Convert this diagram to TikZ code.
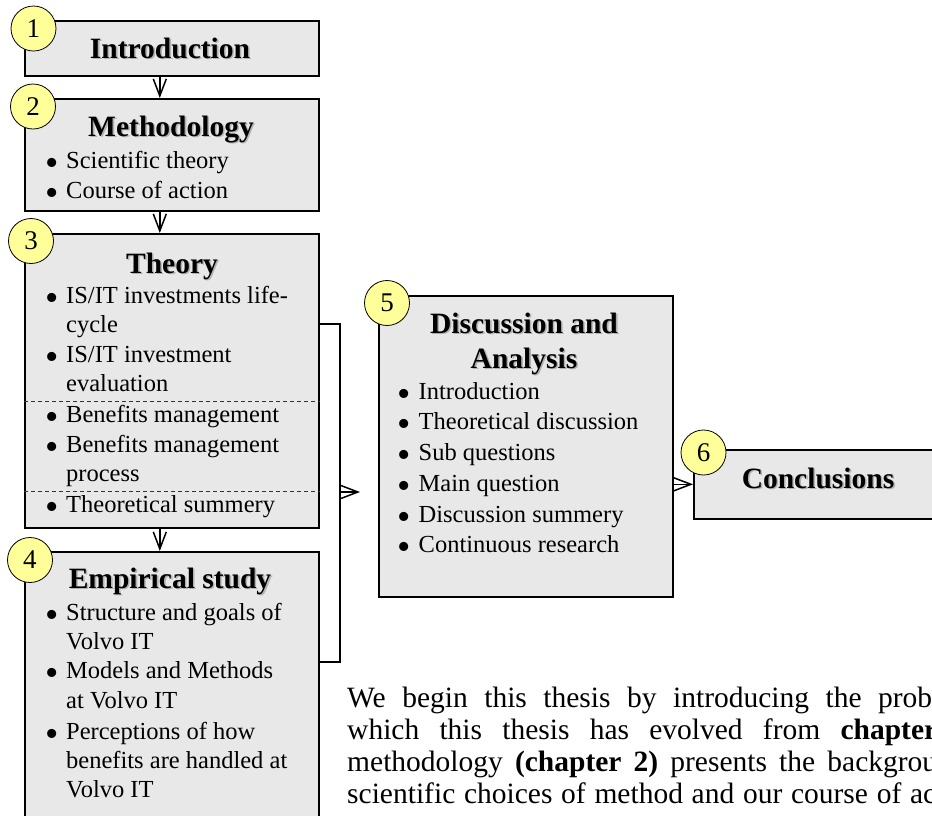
\documentclass[tikz,border=0pt]{standalone}
\usepackage{fontspec}
\usepackage{graphicx}
\setmainfont{Liberation Serif}
\usetikzlibrary{arrows.meta}
\definecolor{boxgray}{HTML}{E8E8E8}
\definecolor{numyellow}{HTML}{FFFF99}
% bold heading with a soft grey drop shadow
\newcommand\shadowed[1]{\makebox[0pt][l]{\hspace{1.6pt}\raisebox{-1.6pt}{\textcolor{black!30}{#1}}}#1}
% enlarged bullet followed by a fixed indent
\newcommand\bul{\makebox[21pt][l]{\raisebox{-0.3em}[0pt][0pt]{\scalebox{1.55}{\textbullet}}}}
\begin{document}
\begin{tikzpicture}[x=1pt,y=-1pt,
  box/.style={draw, line width=1.6pt, fill=boxgray, inner sep=0pt, anchor=north west, minimum width=294pt},
  num/.style={circle, draw, line width=0.8pt, fill=numyellow, minimum size=45pt, inner sep=0pt, font=\fontsize{27}{27}\selectfont},
  title/.style={inner sep=0pt, anchor=base, font=\fontsize{29.5}{35}\selectfont\bfseries},
  item/.style={inner sep=0pt, anchor=base west, font=\fontsize{24.5}{30}\selectfont},
  para/.style={inner sep=0pt, anchor=base west, font=\fontsize{29.5}{34}\selectfont},
  arr/.style={line width=1.5pt, -{Straight Barb[length=17pt,width=13pt]}},
  link/.style={line width=1.5pt},
  sep/.style={line width=0.8pt, dash pattern=on 4pt off 3pt, draw=black!80}]
\useasboundingbox (0,0) rectangle (932,815);
\clip (0,0) rectangle (932,815);

% chapter boxes
\node[box, minimum height=55pt]  (b1) at (24,20)  {};
\node[box, minimum height=112pt] (b2) at (24,98)  {};
\node[box, minimum height=294pt] (b3) at (24,233) {};
\node[box, minimum height=300pt] (b4) at (24,551) {};
\node[box, minimum height=301pt] (b5) at (378,295) {};
\node[box, minimum height=69pt, minimum width=300pt] (b6) at (693,449) {};

% section separators inside the theory box
\coordinate (s1) at (0,401);
\coordinate (s2) at (0,491);
\draw[sep] (b3.west |- s1) -- (b3.east |- s1);
\draw[sep] (b3.west |- s2) -- (b3.east |- s2);

% chapter numbers
\node[num] (n1) at (33.5,28.5) {1};
\node[num] (n2) at (33,106.5) {2};
\node[num] (n3) at (31,241) {3};
\node[num] (n4) at (30,560) {4};
\node[num] (n5) at (387,303) {5};
\node[num] (n6) at (703.5,452.5) {6};

% headings
\node[title] (h1) at (170,58)  {\shadowed{Introduction}};
\node[title] (h2) at (171,136) {\shadowed{Methodology}};
\node[title] (h3) at (172,273) {\shadowed{Theory}};
\node[title] (h4) at (170,588) {\shadowed{Empirical study}};
\node[title] (h5a) at (524,333) {\shadowed{Discussion and}};
\node[title] (h5b) at (524,368) {\shadowed{Analysis}};
\node[title] (h6) at (818,488) {\shadowed{Conclusions}};

% methodology items
\node[item] (m1) at (45,168) {\bul Scientific theory};
\node[item] (m2) at (45,198) {\bul Course of action};

% theory items
\node[item] (t1) at (45,303) {\bul IS/IT investments life-};
\node[item] (t1b) at (66,332) {cycle};
\node[item] (t2) at (45,362) {\bul IS/IT investment};
\node[item] (t2b) at (66,391) {evaluation};
\node[item] (t3) at (45,422) {\bul Benefits management};
\node[item] (t4) at (45,452) {\bul Benefits management};
\node[item] (t4b) at (66,481) {process};
\node[item] (t5) at (45,512) {\bul Theoretical summery};

% empirical study items
\node[item] (e1) at (45,620) {\bul Structure and goals of};
\node[item] (e1b) at (66,649) {Volvo IT};
\node[item] (e2) at (45,678) {\bul Models and Methods};
\node[item] (e2b) at (66,708) {at Volvo IT};
\node[item] (e3) at (45,739) {\bul Perceptions of how};
\node[item] (e3b) at (66,768) {benefits are handled at};
\node[item] (e3c) at (66,797) {Volvo IT};

% discussion items
\node[item] (d1) at (397.5,399) {\bul Introduction};
\node[item] (d2) at (397.5,429) {\bul Theoretical discussion};
\node[item] (d3) at (397.5,460) {\bul Sub questions};
\node[item] (d4) at (397.5,491) {\bul Main question};
\node[item] (d5) at (397.5,522) {\bul Discussion summery};
\node[item] (d6) at (397.5,552) {\bul Continuous research};

% flow between the chapters
\draw[arr] ([xshift=-12pt]b1.south) -- ([xshift=-12pt]b2.north);
\draw[arr] ([xshift=-12pt]b2.south) -- ([xshift=-12pt]b3.north);
\draw[arr] ([xshift=-12pt]b3.south) -- ([xshift=-12pt]b4.north);

% bracket joining theory and empirical study
\coordinate (j1) at (340,324);
\coordinate (j2) at (340,662);
\coordinate (j3) at (340,492);
\coordinate (tip5) at (360,492);
\draw[link] (j1 -| b3.east) -- (j1) -- (j2) -- (j2 -| b4.east);
\draw[arr] (j3) -- (tip5);
\draw[arr] (b5.east |- b6.west) -- (b6.west);

% running text
\node[para] (p1) at (347,707) {\makebox[585pt][s]{We begin this thesis by introducing the prob}};
\node[para] (p2) at (347,739) {\makebox[590pt][s]{which this thesis has evolved from \textbf{chapter}}};
\node[para] (p3) at (347,771) {\makebox[590pt][s]{methodology \textbf{(chapter 2)} presents the backgrou}};
\node[para] (p4) at (347,803) {\makebox[589pt][s]{scientific choices of method and our course of ac}};
\end{tikzpicture}
\end{document}
